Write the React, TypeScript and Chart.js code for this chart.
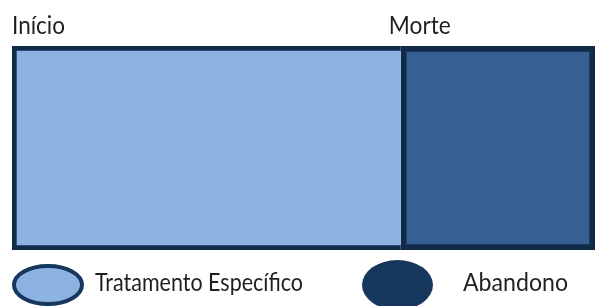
import React, { useEffect, useRef } from "react";
import { Chart, registerables } from "chart.js";

Chart.register(...registerables);

const categories = [""];
const seriesNames = ["Tratamento Específico", "Abandono"];
const treatmentValues = [66.7];
const abandonValues = [33.3];
const milestoneLabels = ["Início", "Morte"];
const milestoneValues = [0, 66.7];

const LIGHT = "#8db3e2";
const MID = "#366092";
const DARK = "#112a4a";
const LEGEND_DARK = "#17375e";
const TEXT = "#231f20";
const FONT = "25px Lato";

const overlayPlugin = {
  id: "overlay",
  afterDraw(chart: any) {
    const ctx = chart.ctx;
    const xs = chart.scales.x;
    ctx.save();
    ctx.fillStyle = TEXT;
    ctx.font = FONT;
    ctx.textBaseline = "alphabetic";
    ctx.textAlign = "left";
    const topWidths = [53, 62];
    milestoneLabels.forEach((lab, i) => {
      const px = xs.getPixelForValue(milestoneValues[i]);
      ctx.fillText(lab, i === 0 ? px : px - 12, 34, topWidths[i]);
    });
    // legend
    ctx.beginPath();
    ctx.ellipse(48, 285, 34, 19, 0, 0, Math.PI * 2);
    ctx.fillStyle = LIGHT;
    ctx.fill();
    ctx.lineWidth = 4;
    ctx.strokeStyle = LEGEND_DARK;
    ctx.stroke();
    ctx.beginPath();
    ctx.ellipse(397.5, 285, 35.5, 25, 0, 0, Math.PI * 2);
    ctx.fillStyle = LEGEND_DARK;
    ctx.fill();
    ctx.fillStyle = TEXT;
    ctx.font = FONT;
    ctx.fillText(seriesNames[0], 95, 291, 208);
    ctx.fillText(seriesNames[1], 463, 291, 105);
    ctx.restore();
  },
};

export default function App() {
  const ref = useRef<HTMLCanvasElement>(null);
  useEffect(() => {
    if (!ref.current) return;
    const chart = new Chart(ref.current, {
      type: "bar",
      data: {
        labels: categories,
        datasets: [
          {
            label: seriesNames[0],
            data: treatmentValues,
            backgroundColor: LIGHT,
            borderColor: DARK,
            borderWidth: { left: 5, top: 5, bottom: 5, right: 0 },
            borderSkipped: false,
            barPercentage: 1,
            categoryPercentage: 1,
          },
          {
            label: seriesNames[1],
            data: abandonValues,
            backgroundColor: MID,
            borderColor: DARK,
            borderWidth: 6,
            borderSkipped: false,
            barPercentage: 1,
            categoryPercentage: 1,
          },
        ],
      },
      options: {
        indexAxis: "y",
        animation: false,
        responsive: false,
        maintainAspectRatio: false,
        layout: { padding: { left: 12, right: 0, top: 46, bottom: 56 } },
        scales: {
          x: { stacked: true, min: 0, max: 100, display: false },
          y: { stacked: true, display: false },
        },
        plugins: {
          legend: { display: false },
          tooltip: { enabled: false },
        },
      },
      plugins: [overlayPlugin],
    } as any);
    return () => chart.destroy();
  }, []);
  return (
    <div style={{ position: "fixed", left: 0, top: 0, width: 595, height: 306, background: "#fff" }}>
      <canvas ref={ref} width={595} height={306} style={{ width: 595, height: 306 }} />
    </div>
  );
}
